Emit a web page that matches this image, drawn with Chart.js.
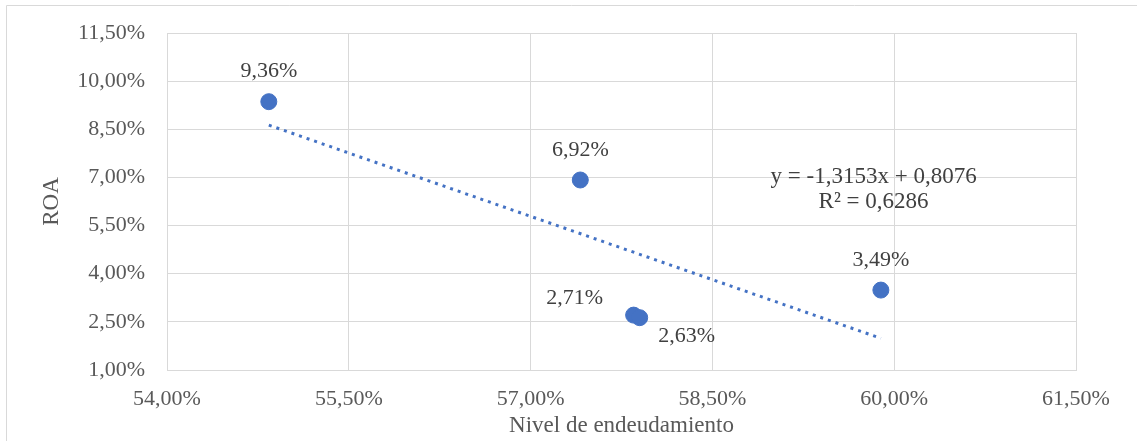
<!DOCTYPE html>
<html>
<head>
<meta charset="utf-8">
<script src="https://cdn.jsdelivr.net/npm/chart.js@4/dist/chart.umd.min.js"></script>
<style>
  body { margin: 0; background: #fff; }
</style>
</head>
<body>
<canvas id="roaChart" width="1137" height="441"></canvas>
<script>
// Data (values in %)
const debtLevel = [54.84, 57.41, 57.85, 57.90, 59.89];
const roa = [9.36, 6.92, 2.71, 2.63, 3.49];
const labelSide = ['top', 'top', 'left', 'right', 'top'];

// Linear trendline as printed on the chart (fraction units)
const trendSlope = -1.3153;
const trendIntercept = 0.8076;
const trendR2 = 0.6286;

const xTicks = { min: 54, max: 61.5, step: 1.5 };
const yTicks = { min: 1, max: 11.5, step: 1.5 };

const fmt = (v, d) => v.toFixed(d).replace('.', ',');
const pct = (v) => fmt(v, 2) + '%';

const xMin = Math.min(...debtLevel);
const xMax = Math.max(...debtLevel);
const trendData = [xMin, xMax].map((x) => ({
  x,
  y: 100 * trendIntercept + trendSlope * x,
}));

const serif = 'Liberation Serif';
const textColor = '#404040';
const gridColor = '#d9d9d9';

// Point labels, equation and the frame edges
const annotations = {
  id: 'annotations',
  beforeDraw(chart) {
    const { ctx } = chart;
    ctx.save();
    ctx.strokeStyle = gridColor;
    ctx.lineWidth = 1;
    ctx.beginPath();
    ctx.moveTo(6.5, 441);
    ctx.lineTo(6.5, 5.5);
    ctx.lineTo(1137, 5.5);
    ctx.stroke();
    ctx.restore();
  },
  afterDatasetsDraw(chart) {
    const { ctx, scales } = chart;
    const meta = chart.getDatasetMeta(1);
    ctx.save();
    ctx.font = '22px "' + serif + '"';
    ctx.fillStyle = textColor;
    ctx.textAlign = 'center';
    ctx.textBaseline = 'middle';
    meta.data.forEach((pt, i) => {
      let dx = 0;
      let dy = -30;
      if (labelSide[i] === 'left') { dx = -59; dy = -17; }
      if (labelSide[i] === 'right') { dx = 47; dy = 19; }
      ctx.fillText(pct(roa[i]), pt.x + dx, pt.y + dy);
    });
    const ex = scales.x.getPixelForValue(59.83);
    const ey = scales.y.getPixelForValue(7.0);
    ctx.font = '23px "' + serif + '"';
    ctx.fillText('y = ' + fmt(trendSlope, 4) + 'x + ' + fmt(trendIntercept, 4), ex, ey);
    ctx.fillText('R² = ' + fmt(trendR2, 4), ex, ey + 25);
    ctx.restore();
  },
};

new Chart(document.getElementById('roaChart'), {
  type: 'scatter',
  data: {
    datasets: [
      {
        type: 'line',
        data: trendData,
        borderColor: '#4472C4',
        borderWidth: 3,
        borderDash: [3, 5],
        pointRadius: 0,
        fill: false,
        tension: 0,
      },
      {
        data: debtLevel.map((x, i) => ({ x, y: roa[i] })),
        backgroundColor: '#4472C4',
        borderColor: '#4472C4',
        pointRadius: 8,
        pointHoverRadius: 8,
      },
    ],
  },
  options: {
    responsive: false,
    animation: false,
    layout: {
      padding: { top: 33, right: 61, left: 0, bottom: 0 },
    },
    plugins: {
      legend: false,
      tooltip: { enabled: false },
    },
    scales: {
      x: {
        type: 'linear',
        min: xTicks.min,
        max: xTicks.max,
        ticks: {
          stepSize: xTicks.step,
          callback: (v) => pct(v),
          color: '#595959',
          font: { family: serif, size: 22 },
          padding: 16,
          maxRotation: 0,
        },
        grid: { color: gridColor, drawTicks: false },
        border: { color: gridColor },
        title: {
          display: true,
          text: 'Nivel de endeudamiento',
          color: '#595959',
          font: { family: serif, size: 23 },
          padding: { top: 0, bottom: 1 },
        },
        afterFit(scale) {
          scale.height = 71;
          scale.paddingLeft = 0;
          scale.paddingRight = 0;
        },
      },
      y: {
        type: 'linear',
        min: yTicks.min,
        max: yTicks.max,
        ticks: {
          stepSize: yTicks.step,
          callback: (v) => pct(v),
          color: '#595959',
          font: { family: serif, size: 22 },
          padding: 22,
        },
        grid: { color: gridColor, drawTicks: false },
        border: { color: gridColor },
        title: {
          display: true,
          text: 'ROA',
          color: '#595959',
          font: { family: serif, size: 23 },
          padding: { top: 38, bottom: 0 },
        },
        afterFit(scale) {
          scale.width = 167;
          scale.paddingTop = 0;
          scale.paddingBottom = 0;
        },
      },
    },
  },
  plugins: [annotations],
});
</script>
</body>
</html>
